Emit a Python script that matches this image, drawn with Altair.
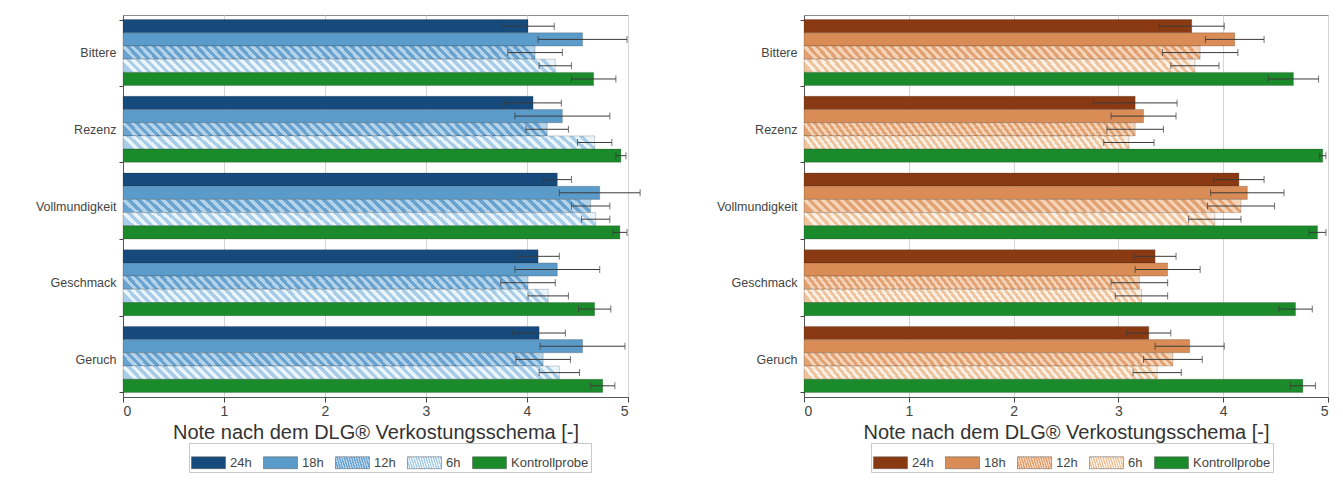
import altair as alt
import pandas as pd

# ---------------- data ----------------
categories = ["Bittere", "Rezenz", "Vollmundigkeit", "Geschmack", "Geruch"]
series = ["24h", "18h", "12h", "6h", "Kontrollprobe"]

# left panel (blue)
L_24h = [4.01, 4.06, 4.30, 4.11, 4.12]
L_24h_sd = [0.26, 0.28, 0.14, 0.21, 0.26]
L_18h = [4.55, 4.35, 4.72, 4.30, 4.55]
L_18h_sd = [0.44, 0.47, 0.40, 0.42, 0.42]
L_12h = [4.08, 4.20, 4.63, 4.01, 4.16]
L_12h_sd = [0.27, 0.21, 0.19, 0.27, 0.27]
L_6h = [4.28, 4.67, 4.68, 4.21, 4.32]
L_6h_sd = [0.16, 0.17, 0.14, 0.20, 0.20]
L_K = [4.66, 4.93, 4.92, 4.67, 4.75]
L_K_sd = [0.22, 0.05, 0.07, 0.16, 0.12]

# right panel (brown)
R_24h = [3.70, 3.16, 4.15, 3.35, 3.29]
R_24h_sd = [0.31, 0.40, 0.24, 0.20, 0.21]
R_18h = [4.11, 3.24, 4.23, 3.47, 3.68]
R_18h_sd = [0.28, 0.31, 0.35, 0.31, 0.33]
R_12h = [3.78, 3.16, 4.17, 3.20, 3.52]
R_12h_sd = [0.36, 0.27, 0.32, 0.27, 0.28]
R_6h = [3.73, 3.10, 3.92, 3.22, 3.37]
R_6h_sd = [0.23, 0.24, 0.25, 0.25, 0.23]
R_K = [4.67, 4.95, 4.90, 4.69, 4.76]
R_K_sd = [0.24, 0.03, 0.08, 0.16, 0.12]

x_ticks = [0, 1, 2, 3, 4, 5]
x_title = "Note nach dem DLG® Verkostungsschema [-]"


def make_df(vals, sds):
    rows = []
    for s, v_list, sd_list in zip(series, vals, sds):
        for c, v, sd in zip(categories, v_list, sd_list):
            rows.append({"cat": c, "series": s, "value": v,
                         "lo": v - sd, "hi": v + sd})
    return pd.DataFrame(rows)


df_left = make_df([L_24h, L_18h, L_12h, L_6h, L_K],
                  [L_24h_sd, L_18h_sd, L_12h_sd, L_6h_sd, L_K_sd])
df_right = make_df([R_24h, R_18h, R_12h, R_6h, R_K],
                   [R_24h_sd, R_18h_sd, R_12h_sd, R_6h_sd, R_K_sd])


# ---------------- styling helpers ----------------
def stripes(c1, c2, n=48, slope=0.03):
    stops = []
    for k in range(n):
        a = k / n
        b = (k + 0.5) / n
        c = (k + 1) / n
        stops += [
            "{offset:%.4f,color:'%s'}" % (a, c1),
            "{offset:%.4f,color:'%s'}" % (b, c1),
            "{offset:%.4f,color:'%s'}" % (b, c2),
            "{offset:%.4f,color:'%s'}" % (c, c2),
        ]
    return {"expr": "{gradient:'linear',x1:0,y1:0.5,x2:1,y2:%.3f,stops:[%s]}"
            % (0.5 - slope, ",".join(stops))}


GREEN = "#1b8a2b"
blue_range = ["#164a7c", "#5a9bc9", stripes("#6aa3cf", "#b3d3ea"),
              stripes("#a9cde8", "#eaf4fb"), GREEN]
brown_range = ["#8a3a12", "#d98c55", stripes("#e2a273", "#f5d3b6"),
               stripes("#efc39c", "#fcefe3"), GREEN]

FONT = "Liberation Sans"


def panel(df, rng, width, height, minext, lx):
    base = alt.Chart(df).encode(
        y=alt.Y("cat:N", sort=categories,
                scale=alt.Scale(paddingInner=0.14, paddingOuter=0.06),
                axis=alt.Axis(title=None, labelFontSize=12.5, labelColor="#444",
                              tickBand="extent", tickSize=4, tickColor="#444",
                              domainColor="#555", labelPadding=3,
                              minExtent=minext, maxExtent=minext)),
        yOffset=alt.YOffset("series:N", sort=series,
                            scale=alt.Scale(paddingInner=0, paddingOuter=0)),
    )
    xscale = alt.Scale(domain=[0, 5], nice=False)
    bars = base.mark_bar(stroke="#222", strokeOpacity=0.35, strokeWidth=0.6).encode(
        x=alt.X("value:Q", scale=xscale,
                axis=alt.Axis(values=x_ticks, format="d", title=x_title,
                              titleFontSize=20, titleFontWeight="normal",
                              titleColor="#333", titlePadding=4,
                              labelFontSize=14, labelColor="#444",
                              tickColor="#444", domainColor="#555",
                              grid=True, gridColor="#d4d4d4")),
        fill=alt.Fill("series:N", sort=series,
                      scale=alt.Scale(domain=series, range=rng),
                      legend=alt.Legend(
                          orient="none", legendX=lx, legendY=428,
                          direction="horizontal", title=None,
                          symbolType="M-1,-0.35H1V0.35H-1Z", symbolSize=1156,
                          symbolStrokeColor="#555", symbolStrokeWidth=0.5,
                          labelFontSize=13, labelColor="#444", labelOffset=4,
                          columnPadding=10, strokeColor="#c8c8c8", padding=2)),
    )
    rules = base.mark_rule(color="#3a3a3a", strokeWidth=1).encode(
        x=alt.X("lo:Q", scale=xscale), x2="hi:Q")
    caps = base.transform_fold(["lo", "hi"], as_=["end", "pos"]).mark_tick(
        color="#3a3a3a", thickness=1, size=7).encode(
        x=alt.X("pos:Q", scale=xscale))
    return alt.layer(bars, rules, caps).properties(width=width, height=height)


left = panel(df_left, blue_range, 505, 382, 114, 66)
right = panel(df_right, brown_range, 524, 382, 112, 67)

chart = alt.hconcat(left, right, spacing=49).resolve_scale(
    fill="independent", x="independent", y="independent"
).resolve_legend(fill="independent").properties(
    padding={"left": 0, "top": 0, "right": 0, "bottom": 0}
).configure(
    font=FONT
).configure_view(stroke="#8a8a8a", strokeWidth=1)

chart.save("out.html", embed_options={"renderer": "svg", "actions": False})
